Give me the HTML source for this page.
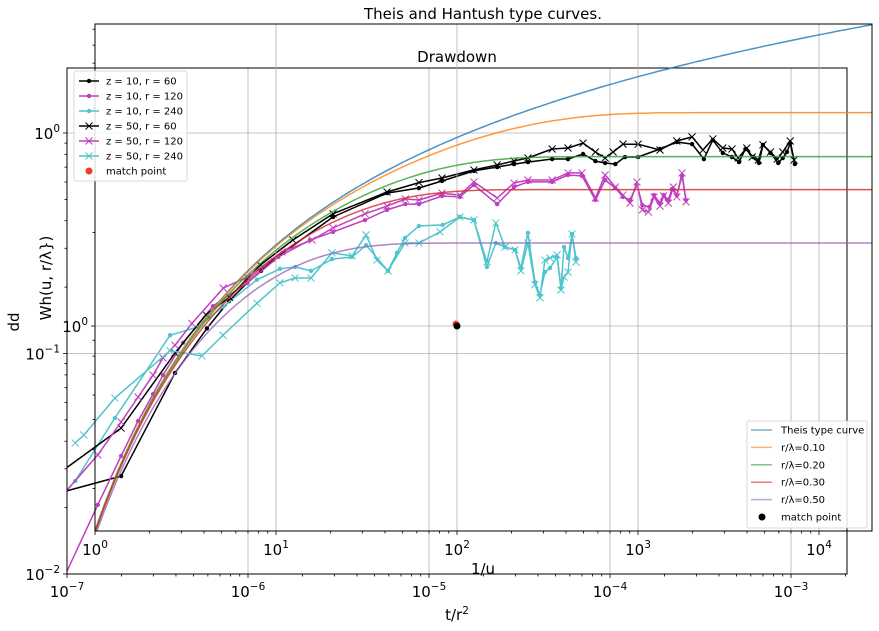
<!DOCTYPE html>
<html><head><meta charset="utf-8"><style>
html,body{margin:0;padding:0;background:#fff;}
svg{display:block;font-family:"DejaVu Sans","Liberation Sans",sans-serif;}
</style></head><body>
<svg id="chart" width="879" height="631" viewBox="0 0 879 631">
<g id="inner"></g>
<g id="outer"></g>
<g id="legends"></g>
</svg>
<script>
// ===== data (inner axes: t/r^2 vs dd) =====
const s1x=[7.1e-8,1.99e-7,3.95e-7,5.93e-7,7.85e-7,9.9e-7,1.18e-6,1.37e-6,2.95e-6,5.86e-6,8.8e-6,1.18e-5,1.77e-5,2.38e-5,2.95e-5,3.52e-5,4.79e-5,5.86e-5,7.1e-5,8.3e-5,9.4e-5,1.07e-4,1.21e-4,1.43e-4,1.89e-4,2.34e-4,2.84e-4,3.3e-4,3.7e-4,4.2e-4,4.72e-4,5.16e-4,5.6e-4,6.2e-4,6.65e-4,7.0e-4,7.7e-4,8.5e-4,9.0e-4,9.5e-4,9.9e-4,1.05e-3];
const s1y=[0.0221,0.0278,0.0816,0.130,0.173,0.209,0.237,0.265,0.416,0.534,0.563,0.606,0.673,0.701,0.723,0.738,0.762,0.762,0.803,0.746,0.731,0.723,0.778,0.778,0.846,0.910,0.891,0.762,0.929,0.812,0.778,0.738,0.846,0.778,0.731,0.883,0.812,0.731,0.770,0.82,0.90,0.723];
const s2x=[7.1e-8,1.48e-7,1.99e-7,2.47e-7,2.99e-7,3.39e-7,4.38e-7,6.4e-7,9.9e-7,1.47e-6,2.2e-6,2.95e-6,4.43e-6,5.86e-6,7.4e-6,8.8e-6,1.18e-5,1.48e-5,1.77e-5,2.38e-5,2.95e-5,3.52e-5,4.79e-5,5.86e-5,7.0e-5,8.3e-5,9.4e-5,1.07e-4,1.18e-4,1.29e-4,1.41e-4,1.51e-4,1.65e-4,1.75e-4,1.89e-4,1.98e-4,2.1e-4,2.2e-4,2.34e-4,2.5e-4,2.63e-4];
const s2y=[0.00563,0.0206,0.0343,0.0494,0.0655,0.0798,0.112,0.164,0.209,0.274,0.327,0.356,0.403,0.448,0.476,0.476,0.518,0.513,0.581,0.476,0.569,0.600,0.600,0.645,0.639,0.497,0.612,0.563,0.513,0.497,0.581,0.471,0.462,0.523,0.481,0.523,0.497,0.557,0.523,0.639,0.497];
const s3x=[1.11e-7,1.84e-7,3.71e-7,5.3e-7,7.28e-7,1.12e-6,1.50e-6,1.82e-6,2.23e-6,2.91e-6,3.76e-6,4.49e-6,5.93e-6,6.65e-6,7.36e-6,8.80e-6,1.19e-5,1.48e-5,1.77e-5,2.09e-5,2.34e-5,2.63e-5,2.99e-5,3.22e-5,3.52e-5,3.85e-5,4.10e-5,4.37e-5,4.66e-5,5.10e-5,5.36e-5,5.57e-5,5.86e-5,6.17e-5,6.49e-5];
const s3y=[0.0264,0.0510,0.121,0.132,0.163,0.216,0.242,0.247,0.237,0.268,0.274,0.310,0.237,0.286,0.334,0.379,0.383,0.416,0.403,0.247,0.317,0.304,0.295,0.244,0.352,0.211,0.184,0.234,0.244,0.274,0.198,0.304,0.271,0.348,0.271];
const s4x=[7.1e-8,1.99e-7,3.95e-7,5.86e-7,7.9e-7,1.17e-6,1.77e-6,2.95e-6,5.86e-6,8.8e-6,1.18e-5,1.77e-5,2.38e-5,2.95e-5,3.52e-5,4.79e-5,5.86e-5,7.1e-5,8.3e-5,9.4e-5,1.04e-4,1.18e-4,1.43e-4,1.89e-4,2.34e-4,2.84e-4,3.26e-4,3.7e-4,4.2e-4,4.72e-4,5.1e-4,5.7e-4,6.1e-4,6.6e-4,7.0e-4,7.7e-4,8.4e-4,9.0e-4,9.9e-4,1.04e-3];
const s4y=[0.0248,0.0459,0.1005,0.150,0.180,0.252,0.327,0.430,0.540,0.596,0.625,0.680,0.716,0.747,0.770,0.846,0.855,0.90,0.82,0.770,0.82,0.89,0.89,0.837,0.92,0.96,0.837,0.94,0.855,0.846,0.770,0.855,0.778,0.754,0.883,0.82,0.762,0.82,0.92,0.754];
const s5x=[7.1e-8,1.48e-7,1.99e-7,2.47e-7,2.99e-7,3.39e-7,3.95e-7,4.9e-7,7.3e-7,9.9e-7,1.54e-6,2.26e-6,2.95e-6,4.43e-6,5.86e-6,7.4e-6,8.8e-6,1.18e-5,1.48e-5,1.77e-5,2.38e-5,2.95e-5,3.52e-5,4.79e-5,5.86e-5,7.0e-5,8.3e-5,9.4e-5,1.07e-4,1.18e-4,1.29e-4,1.41e-4,1.51e-4,1.63e-4,1.75e-4,1.89e-4,1.98e-4,2.1e-4,2.24e-4,2.34e-4,2.5e-4,2.63e-4];
const s5y=[0.0174,0.0347,0.0489,0.0635,0.0798,0.0955,0.109,0.137,0.198,0.222,0.289,0.327,0.371,0.430,0.466,0.502,0.497,0.534,0.523,0.600,0.507,0.593,0.612,0.612,0.659,0.659,0.507,0.645,0.569,0.523,0.481,0.600,0.448,0.438,0.513,0.466,0.518,0.481,0.569,0.513,0.659,0.487];
const s6x=[1.11e-7,1.24e-7,1.84e-7,3.71e-7,5.57e-7,7.28e-7,1.12e-6,1.50e-6,1.82e-6,2.23e-6,2.91e-6,3.76e-6,4.49e-6,5.16e-6,5.93e-6,7.36e-6,8.80e-6,1.15e-5,1.48e-5,1.77e-5,2.09e-5,2.34e-5,2.63e-5,2.99e-5,3.22e-5,3.52e-5,3.85e-5,4.10e-5,4.37e-5,4.66e-5,5.10e-5,5.36e-5,5.57e-5,5.86e-5,6.17e-5,6.49e-5];
const s6y=[0.0393,0.0427,0.0628,0.103,0.0975,0.121,0.169,0.209,0.220,0.220,0.286,0.277,0.345,0.265,0.237,0.317,0.317,0.356,0.416,0.403,0.260,0.391,0.304,0.295,0.237,0.317,0.205,0.179,0.265,0.271,0.280,0.194,0.222,0.234,0.348,0.260];
const seriesLabels=["z = 10, r = 60","z = 10, r = 120","z = 10, r = 240","z = 50, r = 60","z = 50, r = 120","z = 50, r = 240"];
const matchInner=[1.41e-5,0.136];
// ===== outer axes: 1/u vs W =====
const lambdaRatios=[0.10,0.20,0.30,0.50];
const matchOuter=[100,1];
const innerXTicks=[-7,-6,-5,-4,-3];
const innerYTicks=[-2,-1,0];
const outerXTicks=[0,1,2,3,4];
const outerYTicks=[0];

const NS="http://www.w3.org/2000/svg";
function mk(tag,attrs,parent){const e=document.createElementNS(NS,tag);for(const k in attrs)e.setAttribute(k,attrs[k]);parent.appendChild(e);return e;}
const inner=document.getElementById('inner'),outer=document.getElementById('outer'),legends=document.getElementById('legends');

const IX0=67,IX1=847,IY0=68,IY1=574;
const ixMin=-7,ixMax=-7+780/181,iyMin=-2,iyMax=(133-68)/220.5;
const ix=v=>IX0+(Math.log10(v)-ixMin)/(ixMax-ixMin)*(IX1-IX0);
const iy=v=>IY1-(Math.log10(v)-iyMin)/(iyMax-iyMin)*(IY1-IY0);
const OX0=95,OX1=872,OY0=24,OY1=531;
const oxMin=0,oxMax=777/181,oyMin=-205/311,oyMax=302/311;
const ox=v=>OX0+(Math.log10(v)-oxMin)/(oxMax-oxMin)*(OX1-OX0);
const oy=v=>OY1-(Math.log10(v)-oyMin)/(oyMax-oyMin)*(OY1-OY0);

const defs=mk('defs',{},document.getElementById('chart'));
const c1=mk('clipPath',{id:'ci'},defs);mk('rect',{x:IX0,y:IY0,width:IX1-IX0,height:IY1-IY0},c1);
const c2=mk('clipPath',{id:'co'},defs);mk('rect',{x:OX0,y:OY0,width:OX1-OX0,height:OY1-OY0},c2);

function powLabel(parent,x,y,exp,anchor,name){
  const t=mk('text',{x:x,y:y,'font-size':15,'text-anchor':anchor,fill:'#000'},parent);
  
  
  t.appendChild(document.createTextNode('10'));
  const s=mk('tspan',{dy:-7,'font-size':10.5},t);s.textContent=(exp<0?'\u2212':'')+Math.abs(exp);
  return t;
}
function minors(lo,hi){const r=[];for(let d=Math.floor(lo);d<=Math.ceil(hi);d++)for(let m=2;m<=9;m++){const l=d+Math.log10(m);if(l>lo&&l<hi)r.push(Math.pow(10,l));}return r;}

// ---------- inner axes ----------
const ig=mk('g',{},inner);
innerXTicks.forEach(e=>{const x=ix(Math.pow(10,e));mk('line',{x1:x,x2:x,y1:IY0,y2:IY1,stroke:'#b0b0b0','stroke-width':0.8},ig);});
innerYTicks.forEach(e=>{const y=iy(Math.pow(10,e));mk('line',{x1:IX0,x2:IX1,y1:y,y2:y,stroke:'#b0b0b0','stroke-width':0.8},ig);});

const colors=['#000000','#bf3fbf','#4fc4cc','#000000','#bf3fbf','#4fc4cc'];
const sx=[s1x,s2x,s3x,s4x,s5x,s6x],sy=[s1y,s2y,s3y,s4y,s5y,s6y];
const dg=mk('g',{'clip-path':'url(#ci)',},inner);
function marker(g,x,y,type,col){
  if(type==='dot'){mk('circle',{cx:x,cy:y,r:2.2,fill:col},g);}
  else if(type==='x'){mk('path',{d:`M${x-3.5},${y-3.5}L${x+3.5},${y+3.5}M${x-3.5},${y+3.5}L${x+3.5},${y-3.5}`,stroke:col,'stroke-width':1,fill:'none'},g);}
}
for(let i=0;i<6;i++){
  const g=mk('g',{},dg);
  
  
  const pts=sx[i].map((v,j)=>ix(v).toFixed(1)+','+iy(sy[i][j]).toFixed(1)).join(' ');
  mk('polyline',{points:pts,fill:'none',stroke:colors[i],'stroke-width':1.5,'stroke-linejoin':'round'},g);
  sx[i].forEach((v,j)=>marker(g,ix(v),iy(sy[i][j]),i<3?'dot':'x',colors[i]));
}
const mpi=mk('circle',{cx:ix(matchInner[0]),cy:iy(matchInner[1]),r:3.5,fill:'#ee3b2a'},dg);



mk('rect',{x:IX0,y:IY0,width:IX1-IX0,height:IY1-IY0,fill:'none',stroke:'#000','stroke-width':1},inner);
const it=mk('g',{stroke:'#000','stroke-width':0.8},inner);
innerXTicks.forEach(e=>{const x=ix(Math.pow(10,e));mk('line',{x1:x,x2:x,y1:IY1,y2:IY1+4},it);powLabel(inner,x,597,e,'middle','x-tick-label');});
minors(ixMin,ixMax).forEach(v=>{const x=ix(v);mk('line',{x1:x,x2:x,y1:IY1,y2:IY1+2.5},it);});
innerYTicks.forEach(e=>{const y=iy(Math.pow(10,e));mk('line',{x1:IX0-4,x2:IX0,y1:y,y2:y},it);powLabel(inner,IX0-7,y+6,e,'end','y-tick-label');});
minors(iyMin,iyMax).forEach(v=>{const y=iy(v);mk('line',{x1:IX0-2.5,x2:IX0,y1:y,y2:y},it);});
let t=mk('text',{x:457,y:62,'font-size':15,'text-anchor':'middle'},inner);t.textContent='Drawdown';

t=mk('text',{x:457,y:620,'font-size':15,'text-anchor':'middle'},inner);t.textContent='t/r';

let sp=mk('tspan',{dy:-6,'font-size':10.5},t);sp.textContent='2';
t=mk('text',{x:0,y:0,'font-size':15,'text-anchor':'middle',transform:'translate(19,322) rotate(-90)'},inner);t.textContent='dd';


// ---------- outer axes ----------
const og=mk('g',{},outer);
outerXTicks.forEach(e=>{const x=ox(Math.pow(10,e));mk('line',{x1:x,x2:x,y1:OY0,y2:OY1,stroke:'#b0b0b0','stroke-width':0.8},og);});
outerYTicks.forEach(e=>{const y=oy(Math.pow(10,e));mk('line',{x1:OX0,x2:OX1,y1:y,y2:y,stroke:'#b0b0b0','stroke-width':0.8},og);});

function hantush(u,b){
  const a=Math.log(u),e=Math.log(60),n=1500,h=(e-a)/n;let s=0;
  for(let k=0;k<=n;k++){const yy=Math.exp(a+k*h);const f=Math.exp(-yy-b*b/(4*yy));s+=(k===0||k===n)?f/2:f;}
  return s*h;
}
const curveColors=['#1f77b4','#ff7f0e','#2ca02c','#d62728','#9467bd'];
const curveParams=[0].concat(lambdaRatios);
const cg=mk('g',{'clip-path':'url(#co)',},outer);
curveParams.forEach((b,i)=>{
  const pts=[];
  for(let l=-0.05;l<=oxMax+0.05;l+=0.02){const inv=Math.pow(10,l);const w=hantush(1/inv,b);pts.push(ox(inv).toFixed(1)+','+oy(w).toFixed(1));}
  const p=mk('polyline',{points:pts.join(' '),fill:'none',stroke:curveColors[i],'stroke-width':1.5,'stroke-opacity':0.8},cg);
  
  
});
const mpo=mk('circle',{cx:ox(matchOuter[0]),cy:oy(matchOuter[1]),r:3.5,fill:'#000'},outer);


mk('rect',{x:OX0,y:OY0,width:OX1-OX0,height:OY1-OY0,fill:'none',stroke:'#000','stroke-width':1},outer);
const ot=mk('g',{stroke:'#000','stroke-width':0.8},outer);
outerXTicks.forEach(e=>{const x=ox(Math.pow(10,e));mk('line',{x1:x,x2:x,y1:OY1,y2:OY1+4},ot);powLabel(outer,x,555,e,'middle','outer-x-tick-label');});
minors(oxMin,oxMax).forEach(v=>{const x=ox(v);mk('line',{x1:x,x2:x,y1:OY1,y2:OY1+2.5},ot);});
outerYTicks.forEach(e=>{const y=oy(Math.pow(10,e));mk('line',{x1:OX0-4,x2:OX0,y1:y,y2:y},ot);powLabel(outer,OX0-7,y+6,e,'end','outer-y-tick-label');});
minors(oyMin,oyMax).forEach(v=>{const y=oy(v);mk('line',{x1:OX0-2.5,x2:OX0,y1:y,y2:y},ot);});
t=mk('text',{x:483,y:19,'font-size':15,'text-anchor':'middle'},outer);t.textContent='Theis and Hantush type curves.';

t=mk('text',{x:483,y:574,'font-size':15,'text-anchor':'middle'},outer);t.textContent='1/u';

t=mk('text',{x:0,y:0,'font-size':15,'text-anchor':'middle',transform:'translate(51,278) rotate(-90)'},outer);t.textContent='Wh(u, r/\u03bb})';


// ---------- legends ----------
const l1=mk('g',{},legends);

mk('rect',{x:74,y:71,width:113,height:110,rx:2,fill:'#fff','fill-opacity':0.85,stroke:'#d0d0d0','stroke-width':0.8},l1);
seriesLabels.forEach((lab,i)=>{
  const y=81+i*15;const e=mk('g',{},l1);
  
  mk('line',{x1:79,x2:99,y1:y,y2:y,stroke:colors[i],'stroke-width':1.5},e);
  marker(e,89,y,i<3?'dot':'x',colors[i]);
  const tx=mk('text',{x:106,y:y+3.5,'font-size':10},e);tx.textContent=lab;
});
{const y=171;const e=mk('g',{},l1);
mk('circle',{cx:89,cy:y,r:3.5,fill:'#ee3b2a'},e);const tx=mk('text',{x:106,y:y+3.5,'font-size':10},e);tx.textContent='match point';}

const l2=mk('g',{},legends);

mk('rect',{x:747,y:421,width:120,height:107,rx:2,fill:'#fff','fill-opacity':0.85,stroke:'#d0d0d0','stroke-width':0.8},l2);
const l2labels=['Theis type curve'].concat(lambdaRatios.map(b=>'r/\u03bb='+b.toFixed(2)));
l2labels.forEach((lab,i)=>{
  const y=430+i*17.4;const e=mk('g',{},l2);
  
  mk('line',{x1:751,x2:772,y1:y,y2:y,stroke:curveColors[i],'stroke-width':1.5,'stroke-opacity':0.6},e);
  const tx=mk('text',{x:781,y:y+3.5,'font-size':10},e);tx.textContent=lab;
});
{const y=517;const e=mk('g',{},l2);
mk('circle',{cx:762,cy:y,r:3.5,fill:'#000'},e);const tx=mk('text',{x:781,y:y+3.5,'font-size':10},e);tx.textContent='match point';}
</script>
</body></html>
